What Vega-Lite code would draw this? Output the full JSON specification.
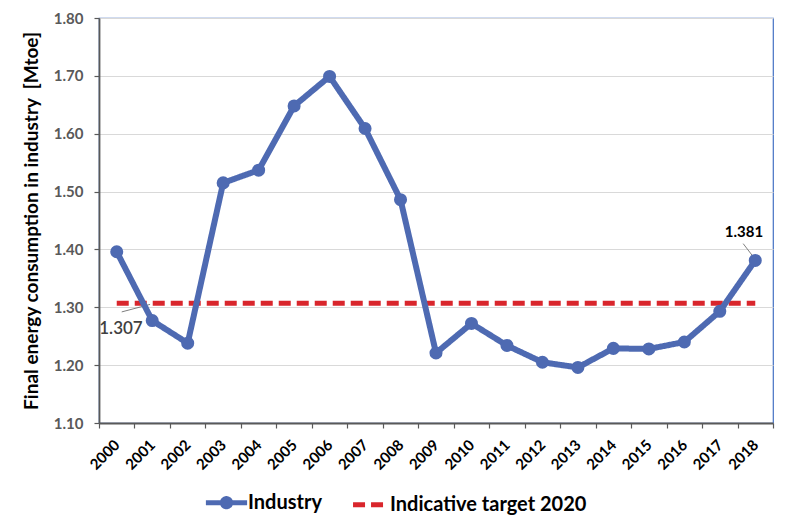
{
  "$schema": "https://vega.github.io/schema/vega-lite/v6.json",
  "width": 674,
  "height": 405,
  "autosize": {"type": "none"},
  "padding": {"left": 99, "top": 18, "right": 17, "bottom": 105},
  "background": "white",
  "config": {
    "font": "Lato",
    "view": {"stroke": "#4472C4", "strokeWidth": 1.2},
    "legend": {
      "orient": "none",
      "legendX": 104,
      "legendY": 461,
      "direction": "horizontal",
      "labelFontSize": 20,
      "labelFontWeight": "bold",
      "labelColor": "#000000",
      "labelFont": "Lato",
      "labelLimit": 0,
      "symbolSize": 1700,
      "symbolStrokeWidth": 5,
      "columnPadding": 21,
      "labelOffset": -2,
      "title": null
    }
  },
  "datasets": {
    "industry": [
      {"year": 2000, "value": 1.396, "series": "Industry"},
      {"year": 2001, "value": 1.277, "series": "Industry"},
      {"year": 2002, "value": 1.238, "series": "Industry"},
      {"year": 2003, "value": 1.515, "series": "Industry"},
      {"year": 2004, "value": 1.537, "series": "Industry"},
      {"year": 2005, "value": 1.648, "series": "Industry"},
      {"year": 2006, "value": 1.699, "series": "Industry"},
      {"year": 2007, "value": 1.609, "series": "Industry"},
      {"year": 2008, "value": 1.486, "series": "Industry"},
      {"year": 2009, "value": 1.221, "series": "Industry"},
      {"year": 2010, "value": 1.272, "series": "Industry"},
      {"year": 2011, "value": 1.234, "series": "Industry"},
      {"year": 2012, "value": 1.205, "series": "Industry"},
      {"year": 2013, "value": 1.196, "series": "Industry"},
      {"year": 2014, "value": 1.229, "series": "Industry"},
      {"year": 2015, "value": 1.228, "series": "Industry"},
      {"year": 2016, "value": 1.240, "series": "Industry"},
      {"year": 2017, "value": 1.293, "series": "Industry"},
      {"year": 2018, "value": 1.381, "series": "Industry"}
    ],
    "target": [
      {"year": 2000, "value": 1.307, "series": "Indicative target 2020"},
      {"year": 2018, "value": 1.307, "series": "Indicative target 2020"}
    ],
    "leaders": [
      {"year": 2000.14, "value": 1.292, "year2": 2000.94, "value2": 1.305},
      {"year": 2017.66, "value": 1.410, "year2": 2017.96, "value2": 1.386}
    ],
    "labelTarget": [{"year": 2000.12, "value": 1.262, "label": "1.307"}],
    "labelLast": [{"year": 2017.68, "value": 1.4295, "label": "1.381"}]
  },
  "layer": [
    {
      "data": {"name": "leaders"},
      "mark": {"type": "rule", "color": "#7f7f7f", "strokeWidth": 1},
      "encoding": {
        "x": {
          "field": "year", "type": "quantitative",
          "scale": {"domain": [1999.5, 2018.5], "nice": false, "zero": false},
          "axis": {
            "orient": "bottom",
            "values": [1999.5, 2000.5, 2001.5, 2002.5, 2003.5, 2004.5, 2005.5, 2006.5, 2007.5, 2008.5, 2009.5, 2010.5, 2011.5, 2012.5, 2013.5, 2014.5, 2015.5, 2016.5, 2017.5, 2018.5],
            "labels": false, "ticks": true, "tickSize": 5, "tickColor": "#595959", "tickWidth": 1.2,
            "domain": true, "domainColor": "#595959", "domainWidth": 1.8,
            "grid": false, "title": null
          }
        },
        "x2": {"field": "year2"},
        "y": {
          "field": "value", "type": "quantitative",
          "scale": {"domain": [1.1, 1.8], "nice": false, "zero": false},
          "axis": {
            "values": [1.1, 1.2, 1.3, 1.4, 1.5, 1.6, 1.7, 1.8],
            "format": ".2f",
            "grid": true, "gridColor": "#d9d9d9", "gridWidth": 1,
            "domain": true, "domainColor": "#595959", "domainWidth": 1.8,
            "ticks": true, "tickSize": 5, "tickColor": "#595959", "tickWidth": 1.2,
            "labelFontSize": 15, "labelFontWeight": "bold", "labelColor": "#595959", "labelPadding": 11,
            "title": "Final energy consumption in industry\u00a0 [Mtoe]",
            "titleFontSize": 19, "titleFontWeight": "bold", "titleColor": "#000000", "titlePadding": 12
          }
        },
        "y2": {"field": "value2"}
      }
    },
    {
      "data": {"name": "target"},
      "mark": {"type": "line", "strokeWidth": 5},
      "encoding": {
        "x": {
          "field": "year", "type": "quantitative",
          "axis": {
            "orient": "bottom",
            "values": [2000, 2001, 2002, 2003, 2004, 2005, 2006, 2007, 2008, 2009, 2010, 2011, 2012, 2013, 2014, 2015, 2016, 2017, 2018],
            "format": "d",
            "ticks": false, "domain": false, "grid": false, "title": null,
            "labelAngle": -45, "labelAlign": "right", "labelBaseline": "middle",
            "labelPadding": 19, "labelFontSize": 15, "labelFontWeight": "bold", "labelColor": "#000000",
            "labelOverlap": false, "labelFlush": false
          }
        },
        "y": {"field": "value", "type": "quantitative"},
        "color": {
          "field": "series", "type": "nominal",
          "scale": {"domain": ["Industry", "Indicative target 2020"], "range": ["#4E6AB2", "#D9262C"]},
          "legend": {
            "encode": {
              "symbols": {
                "update": {
                  "shape": {"signal": "datum.value === 'Industry' ? 'M-1,0L1,0M-0.2,0A0.2,0.2,0,1,1,0.2,0A0.2,0.2,0,1,1,-0.2,0' : 'M-0.75,0L0.75,0'"},
                  "fill": {"signal": "datum.value === 'Industry' ? '#4E6AB2' : 'transparent'"}
                }
              }
            }
          }
        },
        "strokeDash": {
          "field": "series", "type": "nominal",
          "scale": {"domain": ["Industry", "Indicative target 2020"], "range": [[1, 0], [12, 6]]}
        }
      }
    },
    {
      "data": {"name": "industry"},
      "mark": {"type": "line", "strokeWidth": 6},
      "encoding": {
        "x": {"field": "year", "type": "quantitative", "axis": null},
        "y": {"field": "value", "type": "quantitative"},
        "color": {"field": "series", "type": "nominal"},
        "strokeDash": {"field": "series", "type": "nominal"}
      }
    },
    {
      "data": {"name": "industry"},
      "mark": {"type": "circle", "size": 170, "opacity": 1, "color": "#4E6AB2"},
      "encoding": {
        "x": {"field": "year", "type": "quantitative", "axis": null},
        "y": {"field": "value", "type": "quantitative"}
      }
    },
    {
      "data": {"name": "labelTarget"},
      "mark": {"type": "text", "fontSize": 17, "fontWeight": 600, "color": "#404040", "align": "center", "baseline": "middle"},
      "encoding": {
        "x": {"field": "year", "type": "quantitative", "axis": null},
        "y": {"field": "value", "type": "quantitative"},
        "text": {"field": "label"}
      }
    },
    {
      "data": {"name": "labelLast"},
      "mark": {"type": "text", "fontSize": 15, "fontWeight": "bold", "color": "#000000", "align": "center", "baseline": "middle"},
      "encoding": {
        "x": {"field": "year", "type": "quantitative", "axis": null},
        "y": {"field": "value", "type": "quantitative"},
        "text": {"field": "label"}
      }
    }
  ],
  "resolve": {"axis": {"x": "independent"}}
}
